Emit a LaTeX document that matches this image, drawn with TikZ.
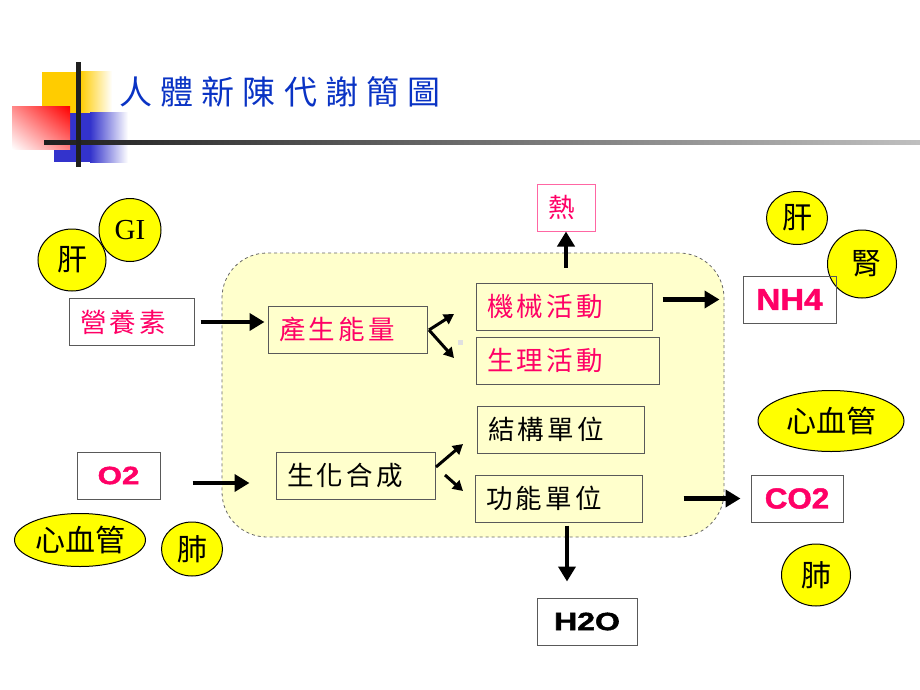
\documentclass[tikz,border=0pt]{standalone}
\usepackage{fontspec}
\setmainfont{Liberation Serif}
\newfontfamily\cjk{Noto Sans CJK TC}
\newfontfamily\cjkls[LetterSpace=13]{Noto Sans CJK TC}
\newfontfamily\cjktitle[LetterSpace=25]{Noto Sans CJK TC}
\newfontfamily\bsans[BoldFeatures={FakeBold=1.6}]{Liberation Sans}
\usetikzlibrary{arrows.meta,shapes.geometric,shadings}
\definecolor{tyellow}{HTML}{FFCC00}
\definecolor{tblue}{HTML}{3333CC}
\definecolor{tred}{HTML}{FF0000}
\definecolor{titleblue}{HTML}{0A33C4}
\definecolor{pinktext}{HTML}{FF0066}
\definecolor{bodyfill}{HTML}{FFFFCC}
\definecolor{organfill}{HTML}{FFFF00}
\begin{document}
\begin{tikzpicture}[x=1pt,y=1pt,
  box/.style={draw=black!65, line width=1pt, inner ysep=0pt, inner xsep=11pt,
    minimum height=47pt, align=left, font=\cjkls\fontsize{26.5}{26.5}\selectfont},
  pinkbox/.style={box, text=pinktext},
  chembox/.style={draw=black!65, line width=1pt, inner sep=0pt, minimum height=47pt},
  organ/.style={ellipse, draw=black, line width=1pt, fill=organfill, inner sep=0pt,
    font=\cjk\fontsize{30}{30}\selectfont},
  bigarrow/.style={line width=4.5pt, -{Triangle[length=15pt,width=17pt]}},
  smallarrow/.style={line width=3pt, -{Triangle[length=10pt,width=11pt]}}
]
\useasboundingbox (0,0) rectangle (920,-690);
% title decoration
\fill[tyellow] (42,-72) rectangle (80,-113);
\shade[left color=tyellow, right color=white] (80,-72) rectangle (112,-113);
\fill[tblue] (54,-113) rectangle (90,-162);
\shade[left color=tblue, right color=white] (90,-113) rectangle (128,-162);
\shade[upper left=tred!45, upper right=tred, lower left=white, lower right=tred!50] (12,-107) rectangle (70,-149);
\shade[left color=black!88, right color=black!25] (44,-140) rectangle (920,-144.5);
\fill[black!88] (76,-62) rectangle (80.5,-167);
\node[anchor=west, inner sep=0pt, text=titleblue, font=\cjktitle\fontsize{33}{33}\selectfont] (title) at (119,-92) {人體新陳代謝簡圖};

% body
\node[draw=black!60, dashed, line width=0.8pt, fill=bodyfill, rounded corners=45pt,
  minimum width=502pt, minimum height=284pt, inner sep=0pt] (body) at (473,-395) {};
\fill[black!12] (457.5,-339.5) rectangle (462.5,-344.5);

% organs
\node[organ, minimum width=68pt, minimum height=62pt] (ganL) at (72,-260) {肝};
\node[organ, minimum width=62pt, minimum height=63pt, font=\fontsize{29}{29}\selectfont] (gi) at (130,-230) {GI};
\node[organ, minimum width=131pt, minimum height=53pt] (xinL) at (80,-540) {心血管};
\node[organ, minimum width=61pt, minimum height=54pt] (feiL) at (192,-549) {肺};
\node[organ, minimum width=61pt, minimum height=53pt] (ganR) at (797,-218) {肝};
\node[organ, minimum width=69pt, minimum height=68pt] (shen) at (862,-264) {\hspace{8pt}腎};
\node[organ, minimum width=146pt, minimum height=61pt] (xinR) at (831,-421) {心血管};
\node[organ, minimum width=69pt, minimum height=62pt] (feiR) at (816,-575) {肺};

% boxes
\node[pinkbox, fill=white, text width=103pt] (ying) at (131.5,-322) {營養素};
\node[pinkbox, text width=137pt] (chan) at (347.5,-329.5) {產生能量};
\node[pinkbox, text width=154pt] (mech) at (564,-306.5) {機械活動};
\node[pinkbox, text width=161pt] (phys) at (567.5,-360.5) {生理活動};
\node[pinkbox, draw=pinktext!60, fill=white, text width=36pt] (heat) at (566,-207.5) {熱};
\node[box, text width=145pt] (struct) at (560.5,-429.5) {結構單位};
\node[box, text width=145pt] (func) at (558.5,-498.5) {功能單位};
\node[box, text width=137pt] (sheng) at (355.5,-475.5) {生化合成};

\node[chembox, fill=white, minimum width=83pt, text=pinktext, font=\bsans\bfseries\fontsize{25}{25}\selectfont] (o2) at (118.5,-475.5) {\scalebox{1.25}[1]{O2}};
\node[chembox, fill=white, minimum width=100pt, text=black, font=\bsans\bfseries\fontsize{25}{25}\selectfont] (h2o) at (587,-621.5) {\scalebox{1.28}[1]{H2O}};
\node[chembox, minimum width=93pt, text=pinktext, font=\bsans\bfseries\fontsize{30}{30}\selectfont] (nh4) at (789.5,-299.5) {\scalebox{1.1}[1]{NH4}};
\node[chembox, fill=white, minimum width=92pt, text=pinktext, font=\bsans\bfseries\fontsize{29}{29}\selectfont] (co2) at (797,-498.5) {\scalebox{1.08}[1]{CO2}};

% arrows
\draw[bigarrow, shorten <=6pt, shorten >=3pt] (ying.east) -- (ying.east -| chan.west);
\draw[bigarrow, shorten <=32pt, shorten >=26pt] ([yshift=-7.5pt]o2.east) -- ([yshift=-7.5pt]o2.east -| sheng.west);
\draw[bigarrow, shorten <=15pt] (heat.south |- mech.north) -- (heat.south);
\draw[bigarrow, shorten <=10pt, shorten >=23pt] (nh4.west -| mech.east) -- (nh4.west);
\draw[bigarrow, shorten <=41pt, shorten >=10pt] (func.east) -- (co2.west);
\draw[bigarrow, shorten <=3pt, shorten >=16pt] ([xshift=8.5pt]func.south) -- ([xshift=8.5pt]func.south |- h2o.north);

\coordinate (cfork) at (429,-330);
\coordinate (cup) at (454,-314);
\coordinate (cdown) at (454,-358);
\draw[smallarrow] (cfork) -- (cup);
\draw[smallarrow] (cfork) -- (cdown);
\coordinate (sup1) at (436,-467);
\coordinate (sup2) at (463,-444);
\coordinate (sdn1) at (445,-475);
\coordinate (sdn2) at (463,-491);
\draw[smallarrow] (sup1) -- (sup2);
\draw[smallarrow] (sdn1) -- (sdn2);
\end{tikzpicture}
\end{document}
